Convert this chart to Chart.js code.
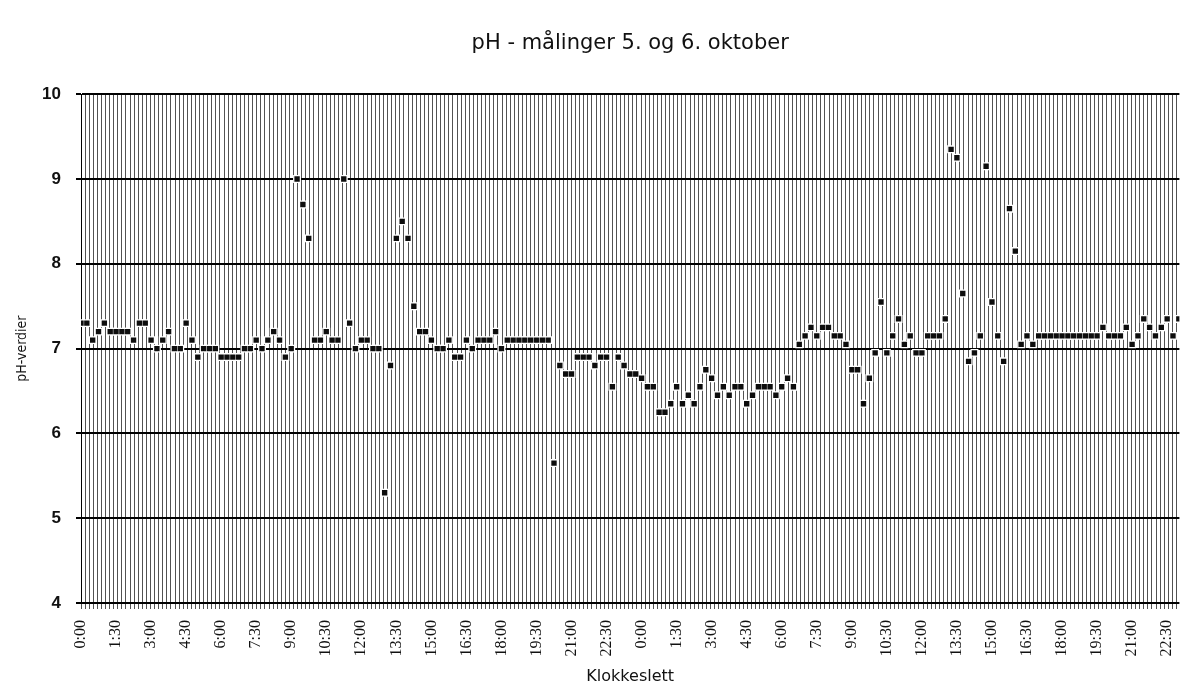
<!DOCTYPE html>
<html>
<head>
<meta charset="utf-8">
<title>pH - målinger</title>
<script src="https://cdn.jsdelivr.net/npm/chart.js@4.4.1/dist/chart.umd.min.js"></script>
<style>
  html, body { margin: 0; padding: 0; background: #fff; }
  #wrap { width: 1185px; height: 690px; }
</style>
</head>
<body>
<div id="wrap"><canvas id="phChart" width="1185" height="690"></canvas></div>
<script>
// tick labels every 1.5 hours (6 quarter-hour steps), two days
var tickLabels = [
  '0:00', '1:30', '3:00', '4:30', '6:00', '7:30', '9:00', '10:30',
  '12:00', '13:30', '15:00', '16:30', '18:00', '19:30', '21:00', '22:30',
  '0:00', '1:30', '3:00', '4:30', '6:00', '7:30', '9:00', '10:30',
  '12:00', '13:30', '15:00', '16:30', '18:00', '19:30', '21:00', '22:30'
];

// one reading per quarter of an hour, day 1 (5. okt)
var phDay1 = [
  7.3, 7.3, 7.1, 7.2, 7.3, 7.2, 7.2, 7.2, 7.2, 7.1, 7.3, 7.3,
  7.1, 7.0, 7.1, 7.2, 7.0, 7.0, 7.3, 7.1, 6.9, 7.0, 7.0, 7.0,
  6.9, 6.9, 6.9, 6.9, 7.0, 7.0, 7.1, 7.0, 7.1, 7.2, 7.1, 6.9,
  7.0, 9.0, 8.7, 8.3, 7.1, 7.1, 7.2, 7.1, 7.1, 9.0, 7.3, 7.0,
  7.1, 7.1, 7.0, 7.0, 5.3, 6.8, 8.3, 8.5, 8.3, 7.5, 7.2, 7.2,
  7.1, 7.0, 7.0, 7.1, 6.9, 6.9, 7.1, 7.0, 7.1, 7.1, 7.1, 7.2,
  7.0, 7.1, 7.1, 7.1, 7.1, 7.1, 7.1, 7.1, 7.1, 5.65, 6.8, 6.7,
  6.7, 6.9, 6.9, 6.9, 6.8, 6.9, 6.9, 6.55, 6.9, 6.8, 6.7, 6.7
];

// day 2 (6. okt)
var phDay2 = [
  6.65, 6.55, 6.55, 6.25, 6.25, 6.35, 6.55, 6.35, 6.45, 6.35, 6.55, 6.75,
  6.65, 6.45, 6.55, 6.45, 6.55, 6.55, 6.35, 6.45, 6.55, 6.55, 6.55, 6.45,
  6.55, 6.65, 6.55, 7.05, 7.15, 7.25, 7.15, 7.25, 7.25, 7.15, 7.15, 7.05,
  6.75, 6.75, 6.35, 6.65, 6.95, 7.55, 6.95, 7.15, 7.35, 7.05, 7.15, 6.95,
  6.95, 7.15, 7.15, 7.15, 7.35, 9.35, 9.25, 7.65, 6.85, 6.95, 7.15, 9.15,
  7.55, 7.15, 6.85, 8.65, 8.15, 7.05, 7.15, 7.05, 7.15, 7.15, 7.15, 7.15,
  7.15, 7.15, 7.15, 7.15, 7.15, 7.15, 7.15, 7.25, 7.15, 7.15, 7.15, 7.25,
  7.05, 7.15, 7.35, 7.25, 7.15, 7.25, 7.35, 7.15, 7.35
];

var yTicks = [4, 5, 6, 7, 8, 9, 10];

var STEP_PER_TICK = 6;
var X_MAX = 188.1;

(function() {
  var values = phDay1.concat(phDay2);
  var points = values.map(function(v, i) { return { x: i, y: v }; });

  function fitYAxis(scale) { scale.width = 81; }
  function fitXAxis(scale) {
    scale.height = 81;
    // keep the plot running to the right edge, like the scan
    scale.paddingLeft = 0;
    scale.paddingRight = 0;
  }
  function fitHatch(scale) {
    scale.paddingLeft = 0;
    scale.paddingRight = 0;
  }

  var ctx = document.getElementById('phChart').getContext('2d');
  new Chart(ctx, {
    type: 'scatter',
    data: {
      datasets: [
        {
          data: points,
          pointStyle: 'rect',
          pointRadius: 3.8,
          pointHoverRadius: 3.8,
          backgroundColor: '#0d0d0d',
          borderWidth: 0
        },
        {
          // white halo behind the markers, as on the scanned plot
          data: points,
          pointStyle: 'rect',
          pointRadius: 5.6,
          pointHoverRadius: 5.6,
          backgroundColor: '#fff',
          borderWidth: 0
        }
      ]
    },
    options: {
      responsive: false,
      animation: false,
      devicePixelRatio: 1,
      layout: { padding: 0 },
      plugins: {
        legend: { display: false },
        tooltip: { enabled: false },
        title: {
          display: true,
          fullSize: false,
          text: 'pH - målinger 5. og 6. oktober',
          color: '#111',
          font: { family: "'DejaVu Sans', sans-serif", size: 21, weight: 'normal' },
          padding: { top: 31, bottom: 38 }
        }
      },
      scales: {
        x: {
          type: 'linear',
          position: 'bottom',
          weight: 1,
          min: 0,
          max: X_MAX,
          afterFit: fitXAxis,
          grid: { display: false, drawTicks: false },
          border: { display: false },
          ticks: {
            stepSize: STEP_PER_TICK,
            includeBounds: false,
            autoSkip: false,
            minRotation: 90,
            maxRotation: 90,
            padding: 11,
            color: '#111',
            font: { family: "'Liberation Serif', serif", size: 16 },
            callback: function(value) {
              if (value % STEP_PER_TICK !== 0) return '';
              return tickLabels[value / STEP_PER_TICK] || '';
            }
          },
          title: {
            display: true,
            text: 'Klokkeslett',
            color: '#111',
            font: { family: "'DejaVu Sans', sans-serif", size: 16 },
            padding: { top: 0, bottom: 4 }
          }
        },
        hatch: {
          type: 'linear',
          position: 'bottom',
          weight: 0,
          min: 0,
          max: X_MAX,
          afterFit: fitHatch,
          grid: {
            color: 'rgba(0,0,0,0.68)',
            lineWidth: 1,
            drawTicks: true,
            tickLength: 6
          },
          border: { display: false },
          ticks: { display: false, stepSize: 0.7, autoSkip: false, includeBounds: false }
        },
        y: {
          min: 4,
          max: 10,
          afterFit: fitYAxis,
          afterBuildTicks: function(scale) {
            scale.ticks = yTicks.map(function(v) { return { value: v }; });
          },
          grid: { color: '#000', lineWidth: 2, drawTicks: true, tickLength: 5 },
          border: { display: true, color: '#000', width: 1 },
          ticks: {
            padding: 15,
            color: '#111',
            font: { family: "'Liberation Sans', Arial, sans-serif", size: 17, weight: 'bold' }
          },
          title: {
            display: true,
            text: 'pH-verdier',
            color: '#111',
            font: { family: "'Liberation Sans Narrow', 'DejaVu Sans Condensed', sans-serif", size: 14 },
            padding: { top: 14, bottom: 0 }
          }
        }
      }
    }
  });
})();
</script>
</body>
</html>
